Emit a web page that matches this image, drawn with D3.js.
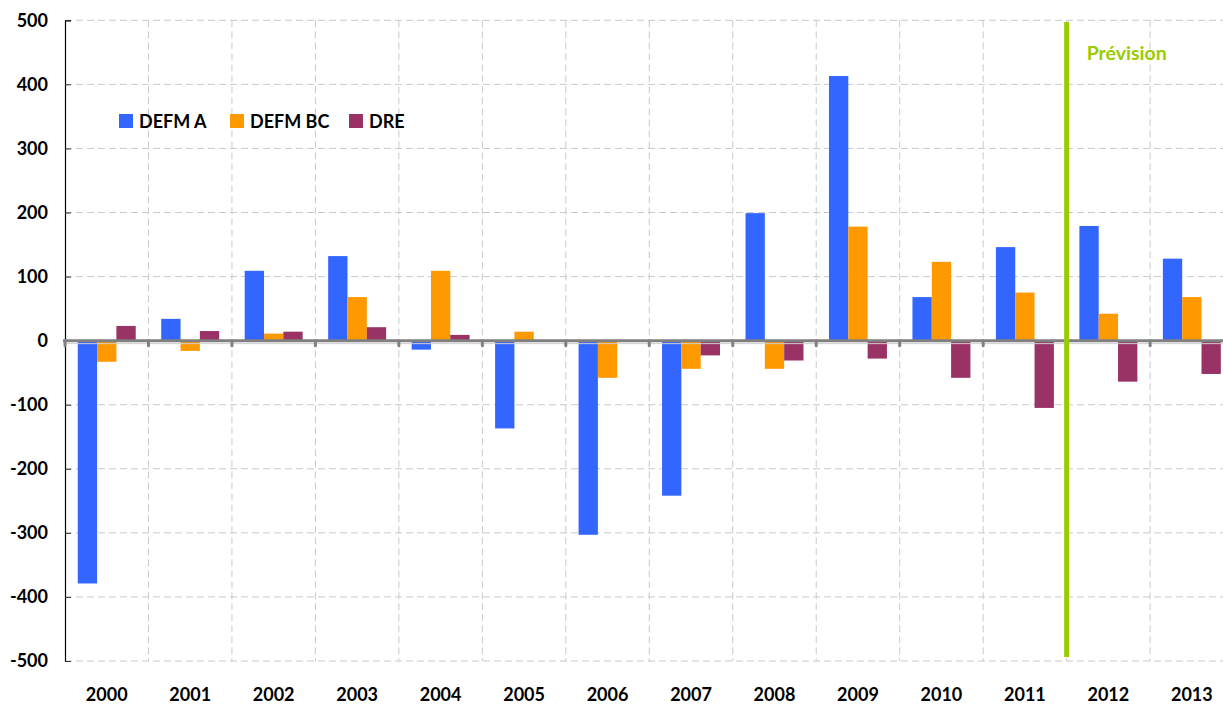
<!DOCTYPE html>
<html>
<head>
<meta charset="utf-8">
<script src="https://cdn.jsdelivr.net/npm/d3@7"></script>
<style>
  body { margin: 0; background: #fff; }
  svg { display: block; font-family: Lato, "Open Sans", sans-serif; font-weight: bold; }
</style>
</head>
<body>
<div id="chart"></div>
<script>
// data
const years = ["2000","2001","2002","2003","2004","2005","2006","2007","2008","2009","2010","2011","2012","2013"]
const seriesNames = ["DEFM A","DEFM BC","DRE"]
const defmA  = [-379, 34, 109, 132, -14, -137, -303, -242, 199, 413, 68, 146, 179, 128]
const defmBC = [-33, -16, 11, 68, 109, 14, -58, -44, -44, 178, 123, 75, 42, 68]
const dre    = [23, 15, 14, 21, 9, 0, 0, -23, -31, -28, -58, -105, -64, -52]
const yTicks = [-500,-400,-300,-200,-100,0,100,200,300,400,500]
const forecastFrom = "2012"
const forecastLabel = "Prévision"

const colors = ["#3366ff", "#ff9900", "#993366"]
const allSeries = [defmA, defmBC, dre]

const width = 1223, height = 704
const marginLeft = 65, marginTop = 20.3, plotH = 640.7
const catW = 83.47
const plotRight = marginLeft + catW * years.length

const svg = d3.select("#chart").append("svg")
  .attr("width", width)
  .attr("height", height)

const x = d3.scaleBand().domain(years).range([marginLeft, plotRight])
const xs = d3.scaleBand().domain(seriesNames).range([12.75, catW - 12.75])
const y = d3.scaleLinear().domain([-500, 500]).range([marginTop + plotH, marginTop])

// grid
const grid = svg.append("g").attr("stroke", "#c9c9c9").attr("stroke-dasharray", "7,4")
grid.selectAll("line.h")
  .data(yTicks.filter(d => d !== 0))
  .enter().append("line")
  .attr("x1", marginLeft).attr("x2", width)
  .attr("y1", d => y(d)).attr("y2", d => y(d))
grid.selectAll("line.v")
  .data(years.slice(1))
  .enter().append("line")
  .attr("x1", d => x(d)).attr("x2", d => x(d))
  .attr("y1", y(500)).attr("y2", y(-500))

// bars
seriesNames.forEach((name, i) => {
  svg.append("g").attr("fill", colors[i])
    .selectAll("rect")
    .data(allSeries[i])
    .enter().append("rect")
    .attr("x", (d, j) => x(years[j]) + xs(name))
    .attr("width", xs.bandwidth())
    .attr("y", d => y(Math.max(0, d)))
    .attr("height", d => Math.abs(y(d) - y(0)))
})

// y axis (plain hyphen for negatives, like the original)
const yAxis = svg.append("g")
  .attr("transform", `translate(${marginLeft},0)`)
  .call(d3.axisLeft(y).tickValues(yTicks).tickFormat(d => String(d)).tickSize(-6).tickPadding(17))
yAxis.select(".domain").attr("stroke", "#000").attr("stroke-width", 1.2)
yAxis.selectAll(".tick line").attr("stroke", "#333")
yAxis.selectAll("text")
  .attr("font-size", 18)
  .attr("font-family", "Lato, 'Open Sans', sans-serif")
  .attr("font-weight", "bold")
  .attr("fill", "#000")

// zero axis
const y0 = y(0)
svg.append("line")
  .attr("x1", marginLeft).attr("x2", width)
  .attr("y1", y0 + 3).attr("y2", y0 + 3)
  .attr("stroke", "#cfcfcf").attr("stroke-width", 1)
svg.append("g").attr("stroke", "#808080").attr("stroke-width", 3).attr("stroke-linecap", "round")
  .selectAll("line")
  .data(years)
  .enter().append("line")
  .attr("x1", d => x(d)).attr("x2", d => x(d))
  .attr("y1", y0).attr("y2", y0 + 5)
svg.append("line")
  .attr("x1", marginLeft - 2).attr("x2", width)
  .attr("y1", y0).attr("y2", y0)
  .attr("stroke", "#808080").attr("stroke-width", 3)

// x labels
svg.append("g")
  .selectAll("text")
  .data(years)
  .enter().append("text")
  .attr("x", d => x(d) + catW / 2)
  .attr("y", 701)
  .attr("text-anchor", "middle")
  .attr("font-size", 18)
  .attr("fill", "#000")
  .text(d => d)

// forecast marker
const fx = x(forecastFrom)
svg.append("line")
  .attr("x1", fx).attr("x2", fx)
  .attr("y1", 22).attr("y2", 657)
  .attr("stroke", "#99cc00").attr("stroke-width", 5)
svg.append("text")
  .attr("x", fx + 20)
  .attr("y", 60)
  .attr("font-size", 19.5)
  .attr("fill", "#99cc00")
  .text(forecastLabel)

// legend
const legendX = [119, 230, 349]
const legend = svg.append("g")
seriesNames.forEach((name, i) => {
  legend.append("rect")
    .attr("x", legendX[i]).attr("y", 114)
    .attr("width", 14).attr("height", 14)
    .attr("fill", colors[i])
  legend.append("text")
    .attr("x", legendX[i] + 20).attr("y", 128)
    .attr("font-size", 18)
    .attr("fill", "#000")
    .text(name)
})
</script>
</body>
</html>
